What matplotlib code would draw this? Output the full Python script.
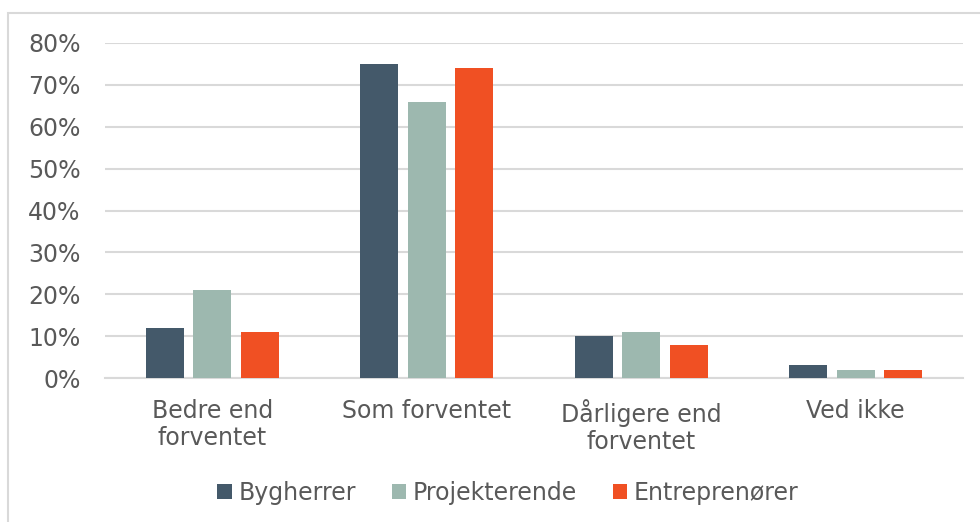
import matplotlib.pyplot as plt
import matplotlib.patches as mpatches
import numpy as np

# Categories and series values (percent)
categories = ['Bedre end\nforventet', 'Som forventet', 'Dårligere end\nforventet', 'Ved ikke']
series_names = ['Bygherrer', 'Projekterende', 'Entreprenører']
bygherrer = [12, 75, 10, 3]
projekterende = [21, 66, 11, 2]
entreprenorer = [11, 74, 8, 2]
y_ticks = [0, 10, 20, 30, 40, 50, 60, 70, 80]

colors = ['#44596A', '#9DB8AF', '#F05023']
text_color = '#595959'
grid_color = '#D9D9D9'

plt.rcParams['font.family'] = ['DejaVu Sans']

fig = plt.figure(figsize=(9.8, 5.22), dpi=100)
W, H = 980, 522
ax = fig.add_axes([105 / W, 1 - 378 / H, (963 - 105) / W, (378 - 43) / H])

# Light frame round the chart area (cut off at right and bottom)
fig.patches.append(mpatches.Rectangle((8 / W, -0.1), 1.2, 1 - 13 / H + 0.1,
                                      transform=fig.transFigure, fill=False,
                                      edgecolor='#D9D9D9', linewidth=1.5))

x = np.arange(len(categories))
width = 0.177
step = 0.222
for i, (vals, name) in enumerate(zip([bygherrer, projekterende, entreprenorer], series_names)):
    ax.bar(x + (i - 1) * step, vals, width, color=colors[i], label=name, zorder=3)

ax.set_xlim(-0.5, len(categories) - 0.5)
ax.set_ylim(0, 80)
ax.set_yticks(y_ticks)
ax.set_yticklabels([f'{t}%' for t in y_ticks])
ax.set_xticks(x)
ax.set_xticklabels(categories, linespacing=1.15)

ax.grid(axis='y', color=grid_color, linewidth=1.5, zorder=0)
for s in ['top', 'right', 'left']:
    ax.spines[s].set_visible(False)
ax.spines['bottom'].set_color(grid_color)
ax.spines['bottom'].set_linewidth(1.5)
ax.tick_params(axis='both', length=0, labelsize=17, colors=text_color)
ax.tick_params(axis='x', pad=15)
ax.tick_params(axis='y', pad=17.5)

leg = fig.legend(loc='center', bbox_to_anchor=(508 / W, 1 - 493 / H), ncol=3,
                 frameon=False, fontsize=17, labelcolor=text_color,
                 handlelength=0.6, handleheight=0.6, handletextpad=0.3,
                 columnspacing=1.5)

fig.savefig('out.png', dpi=100)
